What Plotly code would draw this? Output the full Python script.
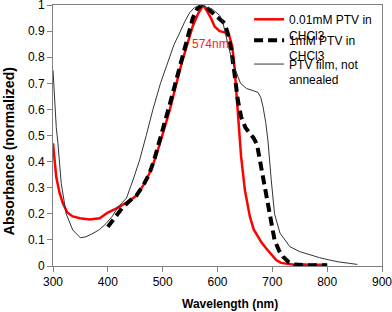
import plotly.graph_objects as go

# 0.01mM PTV in CHCl3 (red)
red_x = [300, 303, 306, 312, 318, 326, 336, 349, 367, 385, 400, 415, 427, 440, 452, 465, 476, 486, 495,
         505, 513, 524, 535, 545, 555, 565, 574, 580, 588, 595, 604, 613, 622, 627, 631, 636, 640, 643,
         650, 659, 666, 674, 681, 689, 698, 707, 716, 726, 740, 760, 770, 780, 800]
red_y = [0.47, 0.40, 0.34, 0.28, 0.24, 0.205, 0.19, 0.183, 0.178, 0.183, 0.205, 0.22, 0.235, 0.25, 0.27,
         0.31, 0.355, 0.41, 0.47, 0.54, 0.598, 0.69, 0.78, 0.85, 0.92, 0.968, 1.0, 0.98, 0.95, 0.917,
         0.90, 0.895, 0.879, 0.84, 0.764, 0.62, 0.50, 0.42, 0.29, 0.19, 0.14, 0.112, 0.088, 0.067, 0.045,
         0.023, 0.012, 0.01, 0.005, 0.006, 0.004, 0.005, 0.005]

# 1mM PTV in CHCl3 (dashed black)
dash_x = [400, 415, 427, 440, 452, 465, 476, 485, 495, 505, 513, 524, 535, 545, 555, 563, 571, 580,
          592, 604, 613, 619, 625, 631, 637, 643, 651, 659, 666, 672, 680, 689, 696, 704, 712, 720,
          730, 740, 760, 780, 800]
dash_y = [0.15, 0.19, 0.225, 0.25, 0.27, 0.31, 0.355, 0.41, 0.48, 0.56, 0.62, 0.71, 0.80, 0.88, 0.95,
          0.985, 1.0, 0.99, 0.968, 0.95, 0.93, 0.89, 0.828, 0.738, 0.636, 0.572, 0.53, 0.508, 0.49, 0.466,
          0.37, 0.27, 0.18, 0.10, 0.06, 0.035, 0.015, 0.006, 0.003, 0.003, 0.003]

# PTV film, not annealed (thin black)
film_x = [300, 303, 306, 309, 315, 324, 336, 350, 360, 373, 385, 397, 408, 419, 434, 446, 458, 470,
          482, 496, 510, 521, 531, 540, 549, 558, 567, 575, 590, 604, 609, 614, 619, 625, 631, 642,
          653, 665, 674, 679, 683, 688, 692, 698, 704, 714, 732, 750, 768, 786, 804, 820, 841, 855]
film_y = [0.75, 0.62, 0.53, 0.47, 0.317, 0.20, 0.138, 0.108, 0.112, 0.125, 0.14, 0.163, 0.19, 0.227,
          0.26, 0.33, 0.406, 0.50, 0.598, 0.70, 0.789, 0.85, 0.893, 0.935, 0.97, 0.99, 0.998, 0.995,
          0.985, 0.96, 0.94, 0.90, 0.85, 0.80, 0.76, 0.70, 0.68, 0.672, 0.665, 0.645, 0.61, 0.55, 0.48,
          0.33, 0.20, 0.126, 0.074, 0.055, 0.042, 0.032, 0.023, 0.016, 0.01, 0.006]

series_names = ["0.01mM PTV in<br>CHCl3", "1mM PTV in<br>CHCl3", "PTV film, not<br>annealed"]
x_ticks = [300, 400, 500, 600, 700, 800, 900]
y_ticks = [0, 0.1, 0.2, 0.3, 0.4, 0.5, 0.6, 0.7, 0.8, 0.9, 1]
x_title = "<b>Wavelength (nm)</b>"
y_title = "<b>Absorbance (normalized)</b>"
peak_label = "574nm"
peak_label_pos = (588, 0.85)

fig = go.Figure()
fig.add_trace(go.Scatter(x=red_x, y=red_y, mode="lines", name=series_names[0], legend="legend",
                         line=dict(color="#ff0000", width=2.5)))
fig.add_trace(go.Scatter(x=dash_x, y=dash_y, mode="lines", name=series_names[1], legend="legend2",
                         line=dict(color="#000000", width=4, dash="9px,5px")))
fig.add_trace(go.Scatter(x=film_x, y=film_y, mode="lines", name=series_names[2], legend="legend3",
                         line=dict(color="#333333", width=1)))

fig.add_annotation(x=peak_label_pos[0], y=peak_label_pos[1], text=peak_label, showarrow=False,
                   xanchor="center", yanchor="middle",
                   font=dict(family="Arial", size=12, color="#ff2020"))
fig.add_annotation(xref="paper", yref="paper", x=0.5395, y=-0.1456, text=x_title, showarrow=False,
                   xanchor="center", yanchor="middle",
                   font=dict(family="Arial", size=12, color="#000"))
fig.add_annotation(xref="paper", yref="paper", x=-0.1337, y=0.44, text=y_title, showarrow=False,
                   xanchor="center", yanchor="middle", textangle=-90,
                   font=dict(family="Arial", size=14, color="#000"))

axis_common = dict(showgrid=False, zeroline=False, showline=True, linecolor="#808080", linewidth=1,
                   mirror=True, ticks="outside", ticklen=5, tickcolor="#808080",
                   tickfont=dict(family="Arial", size=12, color="#000000"), automargin=False,
                   ticklabeloverflow="allow")

fig.update_xaxes(range=[300, 900], tickvals=x_ticks, ticktext=[str(v) for v in x_ticks], **axis_common)
fig.update_yaxes(range=[0, 1], tickvals=y_ticks, ticktext=[f"{v:g}" for v in y_ticks], **axis_common)

leg_common = dict(xanchor="left", yanchor="top", bgcolor="rgba(0,0,0,0)",
                  font=dict(family="Arial", size=12, color="#000"), valign="top",
                  tracegroupgap=0, itemwidth=30)

fig.update_layout(
    width=392, height=312,
    margin=dict(l=53, r=10, t=5, b=46),
    paper_bgcolor="white", plot_bgcolor="white",
    font=dict(family="Arial", size=12, color="#000"),
    showlegend=True,
    legend=dict(x=0.596, y=1.0, **leg_common),
    legend2=dict(x=0.596, y=0.920, **leg_common),
    legend3=dict(x=0.596, y=0.8285, **leg_common),
)

fig.write_html("out.html", config={"displayModeBar": False},
               post_script="document.body.style.margin='0';document.body.style.overflow='hidden';")
